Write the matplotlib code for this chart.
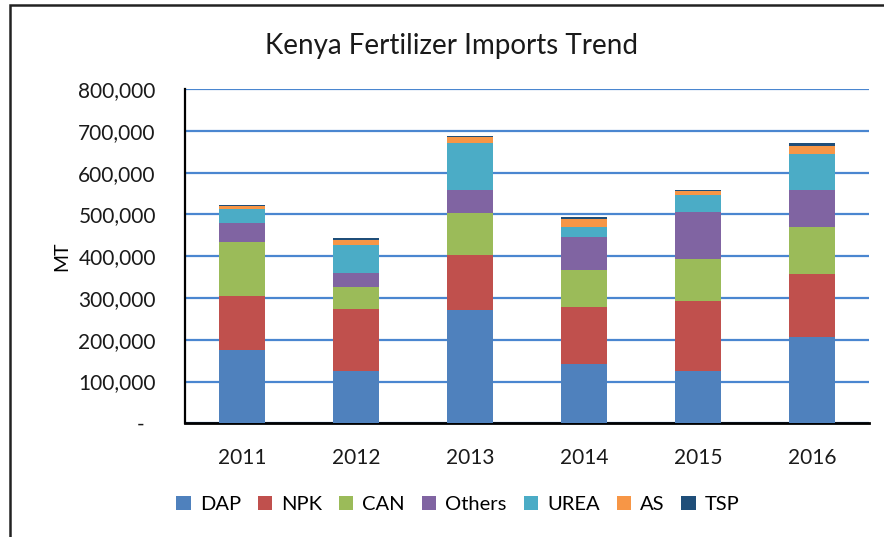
import matplotlib
matplotlib.use('Agg')
import matplotlib.pyplot as plt
import matplotlib.ticker as mticker
from matplotlib.patches import Rectangle
import numpy as np

plt.rcParams['font.family'] = ['Lato', 'DejaVu Sans']

years = ['2011', '2012', '2013', '2014', '2015', '2016']
dap = [175000, 126000, 272000, 142000, 126000, 206000]
npk = [129000, 148000, 130000, 137000, 166000, 151000]
can = [131000, 53000, 101000, 87000, 102000, 112000]
others = [45000, 32000, 55000, 79000, 111000, 90000]
urea = [33000, 69000, 113000, 25000, 42000, 86000]
as_ = [7000, 12000, 14000, 20000, 8000, 18000]
tsp = [3000, 4000, 3000, 3000, 3000, 8000]

series = [('DAP', dap, '#4F81BD'), ('NPK', npk, '#C0504D'),
          ('CAN', can, '#9BBB59'), ('Others', others, '#8064A2'),
          ('UREA', urea, '#4BACC6'), ('AS', as_, '#F79646'),
          ('TSP', tsp, '#1F4E79')]

fig = plt.figure(figsize=(8.84, 5.37), dpi=100)
ax = fig.add_axes([0.2093, 0.2117, 0.7737, 0.6223])

x = np.arange(len(years))
bottom = np.zeros(len(years))
for name, vals, col in series:
    ax.bar(x, vals, 0.4, bottom=bottom, color=col, label=name, zorder=3)
    bottom += np.array(vals)

ax.set_xlim(-0.5, len(years) - 0.5)
ax.set_ylim(0, 800000)
ax.set_yticks(range(0, 800001, 100000))
ax.yaxis.set_major_formatter(mticker.FuncFormatter(
    lambda v, p: '-  ' if v == 0 else '{:,.0f}'.format(v)))
ax.set_xticks(x)
ax.set_xticklabels(years)
ax.tick_params(axis='both', length=0, labelsize=15, colors='#1a1a1a')
ax.tick_params(axis='x', pad=18)
ax.tick_params(axis='y', pad=21)
ax.yaxis.grid(True, color='#4A86D0', linewidth=1.6, zorder=0)
ax.set_axisbelow(True)
for s in ['top', 'right']:
    ax.spines[s].set_visible(False)
ax.spines['left'].set_linewidth(1.6)
ax.spines['bottom'].set_linewidth(2)
ax.set_ylabel('MT', fontsize=14, labelpad=6)

fig.text(0.511, 0.915, 'Kenya Fertilizer Imports Trend', ha='center',
         va='center', fontsize=20, color='#1a1a1a')

fig.legend(loc='center', bbox_to_anchor=(0.518, 0.06), ncol=7, frameon=False,
           fontsize=14.5, handlelength=0.7, handleheight=0.7,
           handletextpad=0.45, columnspacing=0.85)

fig.patches.append(Rectangle((10 / 884, -0.1), 1.2, 1.1 - 5 / 537,
                             transform=fig.transFigure, fill=False,
                             edgecolor='#222222', linewidth=1.8))

fig.savefig('out.png', dpi=100)
